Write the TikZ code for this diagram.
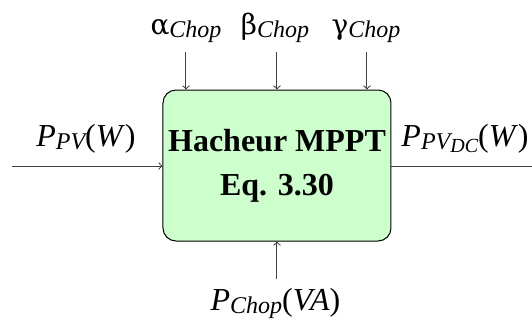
\documentclass[tikz,border=0pt]{standalone}
\usepackage{fontspec}
\setmainfont{Liberation Serif}
\newfontfamily\grec{DejaVu Serif}
\definecolor{vertpale}{RGB}{204,255,204}
% indice en italique, un peu abaisse
\newcommand{\idx}[2][12]{\raisebox{-1.7pt}{\fontsize{#1}{#1}\selectfont\itshape #2}}
\newcommand{\lettre}[1]{{\grec\fontsize{14}{14}\selectfont #1}}

\begin{document}
\begin{tikzpicture}[x=0.5pt,y=-0.5pt,
  every node/.style={font=\fontsize{16}{22}\selectfont},
  bloc/.style={draw,line width=0.5pt,rounded corners=6.5pt,fill=vertpale,
    minimum width=114pt,minimum height=75.5pt,inner sep=0pt,align=center},
  fleche/.style={->,black!75,line width=0.5pt}]
  \useasboundingbox (0,0) rectangle (532,327);
  \node[bloc] (hach) at (277,165.5) {\textbf{Hacheur MPPT}\\\textbf{Eq. 3.30}};
  % commandes du hacheur
  \node[anchor=base] (alpha) at (186,34) {\lettre{α}\idx{Chop}};
  \node[anchor=base] (beta) at (275,34) {\lettre{β}\idx{Chop}};
  \node[anchor=base] (gamma) at (366,34) {\lettre{γ}\idx{Chop}};
  \coordinate (ca) at (186,52);
  \coordinate (cb) at (277,52);
  \coordinate (cg) at (367,52);
  \draw[fleche] (ca) -- (ca |- hach.north);
  \draw[fleche] (cb) -- (cb |- hach.north);
  \draw[fleche] (cg) -- (cg |- hach.north);
  % entree / sortie
  \node[anchor=base] (ppv) at (86,146) {\textit{P}\idx{PV}(\textit{W})};
  \node[anchor=base] (ppvdc) at (465,146) {\textit{P}\idx{PV\idx[10]{DC}}(\textit{W})};
  \coordinate (entree) at (12,166);
  \coordinate (sortie) at (532,166);
  \draw[fleche] (entree) -- (entree -| hach.west);
  \draw[black!75,line width=0.5pt] (sortie -| hach.east) -- (sortie);
  % puissance du hacheur
  \node[anchor=base] (pchop) at (275.5,310) {\textit{P}\idx{Chop}(\textit{VA})};
  \coordinate (cp) at (277,279);
  \draw[fleche] (cp) -- (cp |- hach.south);
\end{tikzpicture}
\end{document}
